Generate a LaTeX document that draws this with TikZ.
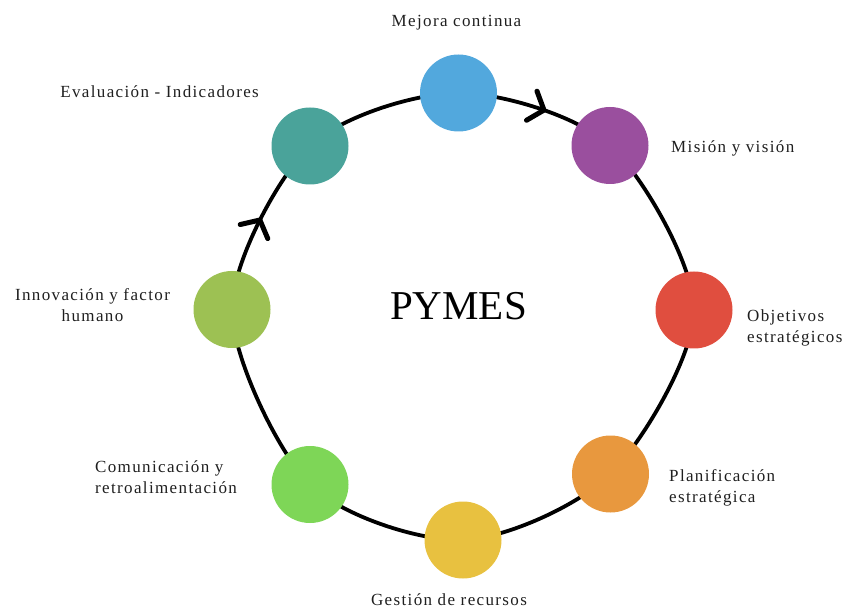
\documentclass[tikz,border=0pt]{standalone}
\usepackage{fontspec}
\setmainfont{Liberation Serif}
\newfontfamily\etqfont[LetterSpace=8]{Liberation Serif}
\usetikzlibrary{arrows.meta,decorations.markings}

% colores de cada etapa
\definecolor{cMejora}{RGB}{82,168,221}
\definecolor{cMision}{RGB}{154,79,158}
\definecolor{cObjetivos}{RGB}{224,78,63}
\definecolor{cPlanif}{RGB}{232,152,62}
\definecolor{cGestion}{RGB}{232,193,64}
\definecolor{cComunic}{RGB}{126,214,87}
\definecolor{cInnov}{RGB}{157,193,83}
\definecolor{cEvalua}{RGB}{74,163,154}

\tikzset{
  chevron/.tip={Straight Barb[length=13pt,width=31pt,line width=5pt,round]},
  etapa/.style={circle, minimum size=77pt, inner sep=0pt},
  etiqueta/.style={font=\etqfont\fontsize{17}{21}\selectfont, text=black!88, inner sep=0pt},
  anillo/.style={line width=3.8pt, black}
}

\begin{document}
\begin{tikzpicture}[x=1pt, y=-1pt]
    \useasboundingbox (0,0) rectangle (846,609);

    % --- centros de las etapas (sentido horario) ---
    \coordinate (pMejora)    at (458.5, 93);
    \coordinate (pMision)    at (610, 145.5);
    \coordinate (pObjetivos) at (694, 310);
    \coordinate (pPlanif)    at (610.5, 474);
    \coordinate (pGestion)   at (463, 540);
    \coordinate (pComunic)   at (310, 484.5);
    \coordinate (pInnov)     at (232, 309.5);
    \coordinate (pEvalua)    at (310, 146);

    % --- anillo del ciclo con dos flechas ---
    % (el trazo suave empieza en el segundo punto de la lista)
    \draw[anillo, postaction={decorate}, decoration={markings,
            mark=at position 0.064 with {\arrow{chevron}},
            mark=at position 0.824 with {\arrow{chevron}}}]
        plot[smooth cycle] coordinates {(pEvalua) (pMejora) (pMision) (pObjetivos)
            (pPlanif) (pGestion) (pComunic) (pInnov)};

    % --- circulos de colores ---
    \node[etapa, fill=cMejora]    (mejora)    at (pMejora) {};
    \node[etapa, fill=cMision]    (mision)    at (pMision) {};
    \node[etapa, fill=cObjetivos] (objetivos) at (pObjetivos) {};
    \node[etapa, fill=cPlanif]    (planif)    at (pPlanif) {};
    \node[etapa, fill=cGestion]   (gestion)   at (pGestion) {};
    \node[etapa, fill=cComunic]   (comunic)   at (pComunic) {};
    \node[etapa, fill=cInnov]     (innov)     at (pInnov) {};
    \node[etapa, fill=cEvalua]    (evalua)    at (pEvalua) {};

    % --- textos ---
    \node[font=\fontsize{41}{43}\selectfont, anchor=base] (pymes) at (458.5, 320) {PYMES};

    \node[etiqueta, anchor=base] (tMejora) at (456.5, 27) {Mejora continua};
    \node[etiqueta, anchor=base west] (tMision) at (671, 153) {Misión y visión};
    \node[etiqueta, anchor=west, align=left] (tObjetivos) at (747, 328)
        {Objetivos\\estratégicos};
    \node[etiqueta, anchor=west, align=left] (tPlanif) at (669, 488)
        {Planificación\\estratégica};
    \node[etiqueta, anchor=base] (tGestion) at (449, 605) {Gestión de recursos};
    \node[etiqueta, anchor=west, align=left] (tComunic) at (95, 477)
        {Comunicación y\\retroalimentación};
    \node[etiqueta, align=center] (tInnov) at (92.5, 305)
        {Innovación y factor\\humano};
    \node[etiqueta, anchor=base east] (tEvalua) at (259, 98) {Evaluación - Indicadores};
\end{tikzpicture}
\end{document}
